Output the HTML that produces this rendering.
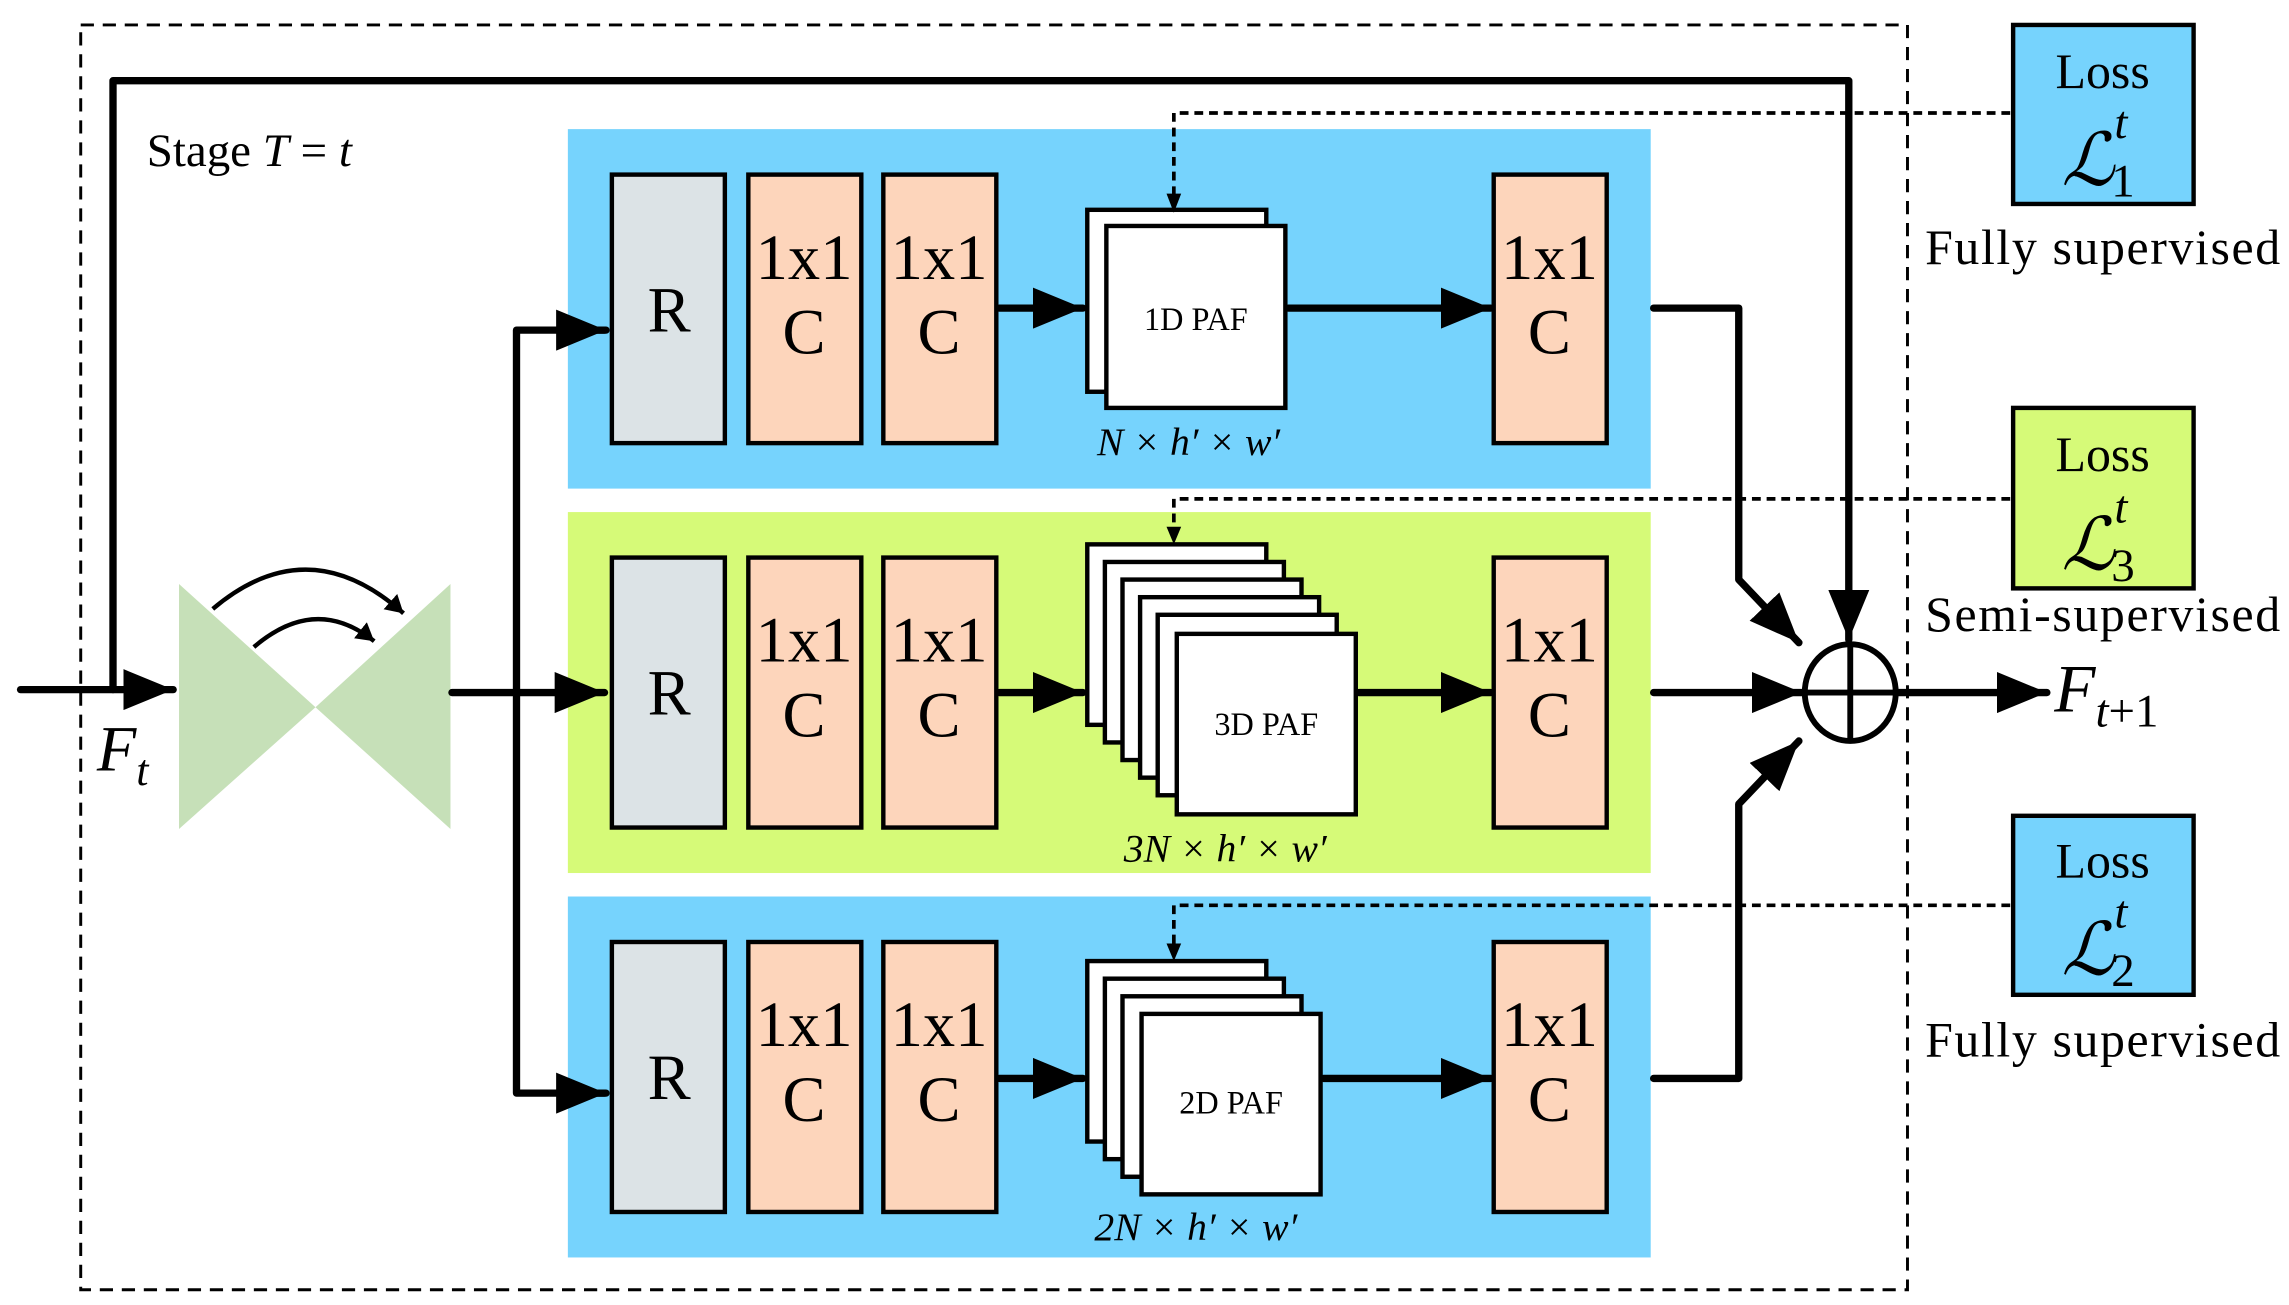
<!DOCTYPE html>
<html><head><style>html,body{margin:0;padding:0;background:#fff}svg{display:block}</style></head><body>
<svg width="2289" height="1305" viewBox="0 0 1560 889.4" xmlns="http://www.w3.org/2000/svg" font-family="Liberation Serif, serif">
<defs>
<marker id="b" markerWidth="34" markerHeight="28" refX="34" refY="14" orient="auto" markerUnits="userSpaceOnUse"><path d="M0,0L34,14L0,28z"/></marker>
<marker id="s" markerWidth="12" markerHeight="14" refX="12" refY="7" orient="auto" markerUnits="userSpaceOnUse"><path d="M0,0L12,7L0,14z"/></marker>
</defs>
<rect x="55" y="17" width="1245" height="862" fill="none" stroke="#000" stroke-width="2" stroke-dasharray="9,6"/>
<rect x="387" y="88" width="738" height="245" fill="#76d3fd"/>
<rect x="387" y="349" width="738" height="246" fill="#d6fa78"/>
<rect x="387" y="611" width="738" height="246" fill="#76d3fd"/>
<g stroke="#000" stroke-width="3">
<rect x="417" y="119" width="77" height="183" fill="#dce3e6"/>
<rect x="510" y="119" width="77" height="183" fill="#fdd5bb"/>
<rect x="602" y="119" width="77" height="183" fill="#fdd5bb"/>
<rect x="1018" y="119" width="77" height="183" fill="#fdd5bb"/>
<rect x="417" y="380" width="77" height="184" fill="#dce3e6"/>
<rect x="510" y="380" width="77" height="184" fill="#fdd5bb"/>
<rect x="602" y="380" width="77" height="184" fill="#fdd5bb"/>
<rect x="1018" y="380" width="77" height="184" fill="#fdd5bb"/>
<rect x="417" y="642" width="77" height="184" fill="#dce3e6"/>
<rect x="510" y="642" width="77" height="184" fill="#fdd5bb"/>
<rect x="602" y="642" width="77" height="184" fill="#fdd5bb"/>
<rect x="1018" y="642" width="77" height="184" fill="#fdd5bb"/>
</g>
<g font-size="44" text-anchor="middle">
<text x="456" y="226">R</text><text x="456" y="487">R</text><text x="456" y="749">R</text>
<text x="548" y="190">1x1</text><text x="548" y="241">C</text>
<text x="640" y="190">1x1</text><text x="640" y="241">C</text>
<text x="1056" y="190">1x1</text><text x="1056" y="241">C</text>
<text x="548" y="451">1x1</text><text x="548" y="502">C</text>
<text x="640" y="451">1x1</text><text x="640" y="502">C</text>
<text x="1056" y="451">1x1</text><text x="1056" y="502">C</text>
<text x="548" y="713">1x1</text><text x="548" y="764">C</text>
<text x="640" y="713">1x1</text><text x="640" y="764">C</text>
<text x="1056" y="713">1x1</text><text x="1056" y="764">C</text>
</g>
<g fill="#fff" stroke="#000" stroke-width="3">
<rect x="741" y="143" width="122" height="124"/>
<rect x="754" y="154" width="122" height="124"/>
<rect x="741" y="371" width="122" height="123"/>
<rect x="753" y="383" width="122" height="123"/>
<rect x="765" y="395" width="122" height="123"/>
<rect x="777" y="407" width="122" height="123"/>
<rect x="789" y="419" width="122" height="123"/>
<rect x="802" y="432" width="122" height="123"/>
<rect x="741" y="655" width="122" height="123"/>
<rect x="753" y="667" width="122" height="123"/>
<rect x="765" y="679" width="122" height="123"/>
<rect x="778" y="691" width="122" height="123"/>
</g>
<g font-size="22" text-anchor="middle">
<text x="815" y="225">1D PAF</text>
<text x="863" y="501">3D PAF</text>
<text x="839" y="759">2D PAF</text>
</g>
<g font-size="27" font-style="italic" text-anchor="middle">
<text x="810" y="310">N × h′ × w′</text>
<text x="835" y="587">3N × h′ × w′</text>
<text x="815" y="845">2N × h′ × w′</text>
</g>
<polygon points="122,398 122,565 215,482" fill="#c6e0b8"/>
<polygon points="307,398 307,565 215,482" fill="#c6e0b8"/>
<g fill="none" stroke="#000" stroke-width="3">
<path d="M145,415 Q210,360 275,418" marker-end="url(#s)"/>
<path d="M173,441 Q215,405 255,437" marker-end="url(#s)"/>
</g>
<g fill="none" stroke="#000" stroke-width="5" stroke-linecap="round" stroke-linejoin="round">
<path d="M77,470 V55 H1260 V436" marker-end="url(#b)"/>
<line x1="14" y1="470" x2="118" y2="470" marker-end="url(#b)"/>
<line x1="308" y1="472" x2="412" y2="472" marker-end="url(#b)"/>
<path d="M412,225 H352 V745 H412" />
<line x1="380" y1="225" x2="413" y2="225" marker-end="url(#b)"/>
<line x1="380" y1="745" x2="413" y2="745" marker-end="url(#b)"/>
<line x1="681" y1="210" x2="738" y2="210" marker-end="url(#b)"/>
<line x1="878" y1="210" x2="1016" y2="210" marker-end="url(#b)"/>
<line x1="681" y1="472" x2="738" y2="472" marker-end="url(#b)"/>
<line x1="926" y1="472" x2="1016" y2="472" marker-end="url(#b)"/>
<line x1="681" y1="735" x2="738" y2="735" marker-end="url(#b)"/>
<line x1="902" y1="735" x2="1016" y2="735" marker-end="url(#b)"/>
<path d="M1127,210 H1185 V395 L1226,438" marker-end="url(#b)"/>
<line x1="1127" y1="472" x2="1228" y2="472" marker-end="url(#b)"/>
<path d="M1127,735 H1185 V548 L1226,505" marker-end="url(#b)"/>
<line x1="1293" y1="472" x2="1395" y2="472" marker-end="url(#b)"/>
</g>
<ellipse cx="1261" cy="472" rx="31" ry="33" fill="none" stroke="#000" stroke-width="4"/>
<line x1="1230" y1="472" x2="1292" y2="472" stroke="#000" stroke-width="4"/>
<line x1="1261" y1="439" x2="1261" y2="505" stroke="#000" stroke-width="4"/>
<g fill="none" stroke="#000" stroke-width="2.5" stroke-dasharray="6,4">
<path d="M1370,77 H800 V135"/>
<path d="M1370,340 H800 V362"/>
<path d="M1370,617 H800 V646"/>
</g>
<g>
<path d="M795,132 L800,145 L805,132z"/>
<path d="M795,359 L800,371 L805,359z"/>
<path d="M795,643 L800,655 L805,643z"/>
</g>
<g stroke="#000" stroke-width="3">
<rect x="1372" y="17" width="123" height="122" fill="#76d3fd"/>
<rect x="1372" y="278" width="123" height="123" fill="#d6fa78"/>
<rect x="1372" y="556" width="123" height="122" fill="#76d3fd"/>
</g>
<g font-size="34" text-anchor="middle">
<text x="1433" y="60">Loss</text>
<text x="1433" y="321">Loss</text>
<text x="1433" y="598">Loss</text>
<text x="1433" y="180" textLength="242">Fully supervised</text>
<text x="1433" y="430" textLength="242">Semi-supervised</text>
<text x="1433" y="720" textLength="242">Fully supervised</text>
</g>
<g font-size="50" font-style="italic">
<text x="1405" y="126">ℒ<tspan font-size="32" dy="-32">t</tspan><tspan font-size="32" font-style="normal" dx="-11" dy="40">1</tspan></text>
<text x="1405" y="388">ℒ<tspan font-size="32" dy="-32">t</tspan><tspan font-size="32" font-style="normal" dx="-11" dy="40">3</tspan></text>
<text x="1405" y="664">ℒ<tspan font-size="32" dy="-32">t</tspan><tspan font-size="32" font-style="normal" dx="-11" dy="40">2</tspan></text>
</g>
<text x="100" y="113" font-size="32">Stage <tspan font-style="italic">T</tspan> = <tspan font-style="italic">t</tspan></text>
<text x="66" y="525" font-size="44" font-style="italic">F<tspan font-size="30" dy="10">t</tspan></text>
<text x="1400" y="485" font-size="46" font-style="italic">F<tspan font-size="32" dy="10">t</tspan><tspan font-size="32" font-style="normal">+1</tspan></text>
</svg>
</body></html>
